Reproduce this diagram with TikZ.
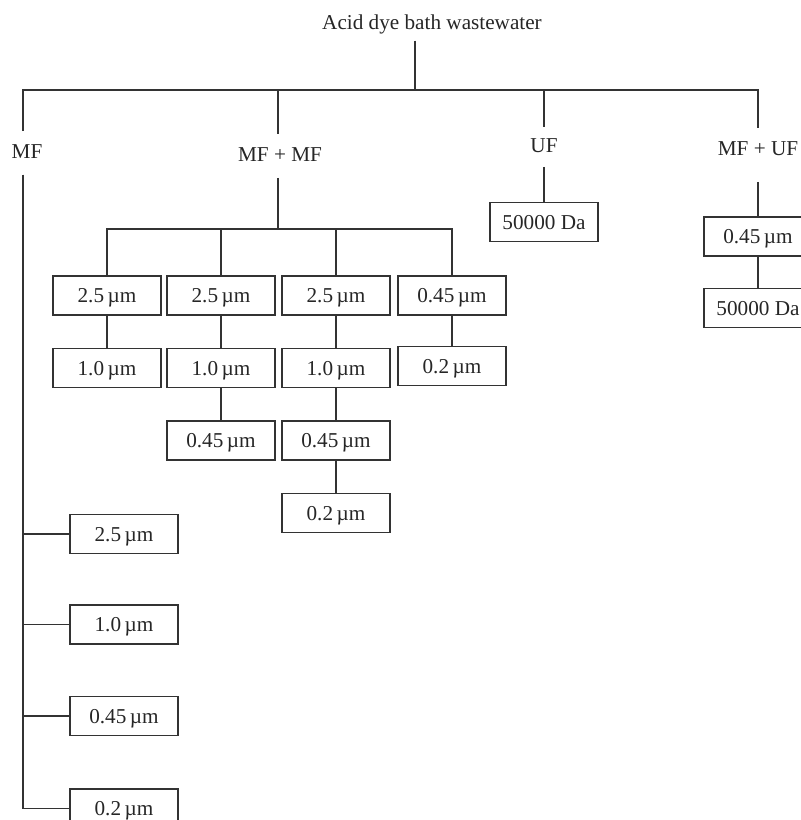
\documentclass[tikz,border=0pt]{standalone}
\usepackage{fontspec}
\setmainfont{Liberation Serif}
\usetikzlibrary{positioning}

\tikzset{
  link/.style={draw=black!80, line width=0.75pt},
  filterbox/.style={draw=black!80, line width=0.75pt, minimum width=54pt,
    minimum height=19.5pt, inner sep=0pt, text height=7pt, text depth=0pt},
  branchlabel/.style={inner xsep=2pt, inner ysep=6pt, text height=7.5pt,
    text depth=2pt}
}

\begin{document}
\begin{tikzpicture}[x=0.5pt, y=-0.5pt, text=black!85,
    font=\fontsize{10.6}{12.7}\selectfont]
  \path[use as bounding box, clip] (0,0) rectangle (801,820);

  \node (title) at (432,24) {Acid dye bath wastewater};
  \coordinate (bus) at (415,90);

  \node[branchlabel] (mf) at (27,153) {MF};
  \node[branchlabel] (mfmf) at (280,156) {MF + MF};
  \node[branchlabel, inner ysep=5pt] (uf) at (544,147) {UF};
  \node[branchlabel] (mfuf) at (758,150) {MF + UF};

  % MF: single filters
  \node[filterbox] (mfa) at (124,534) {2.5\,µm};
  \node[filterbox] (mfb) [below = 25pt of mfa] {1.0\,µm};
  \node[filterbox] (mfc) [below = 25.5pt of mfb] {0.45\,µm};
  \node[filterbox] (mfd) [below = 26pt of mfc] {0.2\,µm};

  % MF + MF: filter sequences
  \node[filterbox] (seqa1) at (107,295.5) {2.5\,µm};
  \node[filterbox] (seqa2) [below = 16pt of seqa1] {1.0\,µm};
  \node[filterbox] (seqb1) at (221,295.5) {2.5\,µm};
  \node[filterbox] (seqb2) [below = 16pt of seqb1] {1.0\,µm};
  \node[filterbox] (seqb3) [below = 16pt of seqb2] {0.45\,µm};
  \node[filterbox] (seqc1) at (336,295.5) {2.5\,µm};
  \node[filterbox] (seqc2) [below = 16pt of seqc1] {1.0\,µm};
  \node[filterbox] (seqc3) [below = 16pt of seqc2] {0.45\,µm};
  \node[filterbox] (seqc4) [below = 16pt of seqc3] {0.2\,µm};
  \node[filterbox] (seqd1) at (452,295.5) {0.45\,µm};
  \node[filterbox] (seqd2) [below = 15pt of seqd1] {0.2\,µm};

  % UF
  \node[filterbox] (ufbox) at (544,222) {50000 Da};

  % MF + UF
  \node[filterbox] (mfufmf) at (758,236.5) {0.45\,µm};
  \node[filterbox] (mfufuf) [below = 15.5pt of mfufmf] {50000 Da};

  % Draw connectors
  \draw[link] (title.south -| bus) -- (bus);
  \draw[link] ([xshift=-2pt]mf.north) |- (bus) -| (mfuf.north);
  \draw[link] (bus) -| ([xshift=-1pt]mfmf.north);
  \draw[link] (bus) -| (uf.north);

  \foreach \filt in {mfa,mfb,mfc,mfd}
    \draw[link] ([xshift=-2pt]mf.south) |- (\filt.west);

  \coordinate (mfmfbus) at (278,229);
  \draw[link] ([xshift=-1pt]mfmf.south) -- (mfmfbus);
  \foreach \filt in {seqa1,seqb1,seqc1,seqd1}
    \draw[link] (mfmfbus) -| (\filt.north);
  \draw[link] (seqa1) -- (seqa2);
  \draw[link] (seqb1) -- (seqb2);
  \draw[link] (seqb2) -- (seqb3);
  \draw[link] (seqc1) -- (seqc2);
  \draw[link] (seqc2) -- (seqc3);
  \draw[link] (seqc3) -- (seqc4);
  \draw[link] (seqd1) -- (seqd2);

  \draw[link] (uf.south) -- (ufbox);
  \draw[link] ([yshift=-5pt]mfuf.south) -- (mfufmf);
  \draw[link] (mfufmf) -- (mfufuf);
\end{tikzpicture}
\end{document}
